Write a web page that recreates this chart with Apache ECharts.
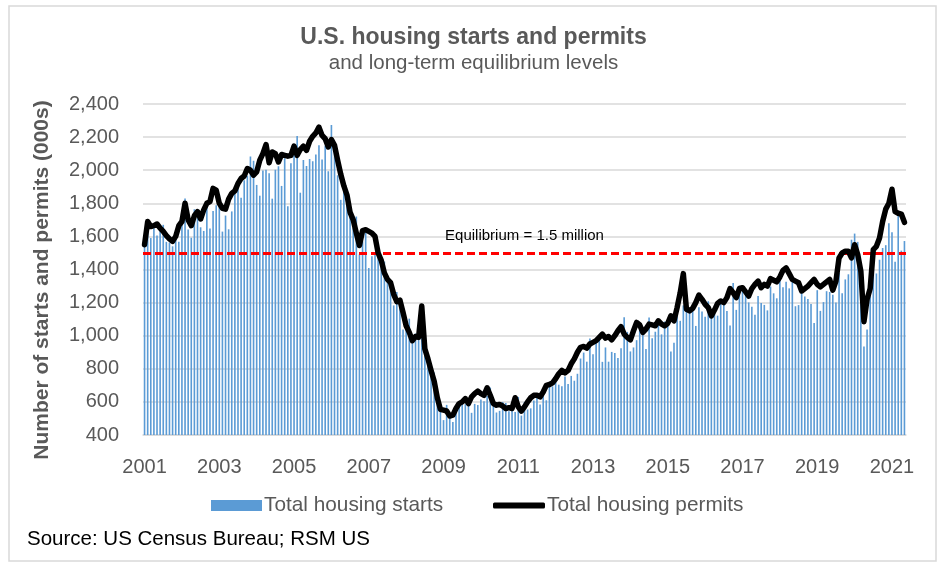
<!DOCTYPE html>
<html>
<head>
<meta charset="utf-8">
<script src="https://cdn.jsdelivr.net/npm/echarts@6/dist/echarts.min.js"></script>
<style>
html,body{margin:0;padding:0;background:#fff;}
#chart{width:947px;height:571px;}
</style>
</head>
<body>
<div id="chart"></div>
<script>
// Monthly categories, Jan 2001 .. May 2021
const firstYear = 2001, lastYear = 2021, lastMonth = 5;
const categories = [];
for (let y = firstYear; y <= lastYear; y++) {
  for (let m = 1; m <= 12; m++) {
    if (y === lastYear && m > lastMonth) break;
    categories.push(y + '-' + (m < 10 ? '0' + m : m));
  }
}
const tickYears = ['2001','2003','2005','2007','2009','2011','2013','2015','2017','2019','2021'];

// Total housing starts (000s, SAAR)
const housingStarts = [
  1600,1625,1590,1649,1605,1636,1670,1567,1562,1540,1602,1568, // 2001
  1698,1829,1642,1592,1764,1717,1655,1633,1804,1648,1753,1788, // 2002
  1853,1629,1726,1643,1751,1867,1897,1833,1939,1967,2083,2057, // 2003
  1911,1846,1998,2003,1981,1828,2002,2024,1905,2072,1782,2042, // 2004
  2144,2207,1864,2061,2025,2068,2054,2095,2151,2065,2147,1994, // 2005
  2273,2119,1969,1821,1942,1802,1737,1650,1720,1491,1570,1649, // 2006
  1409,1480,1495,1490,1415,1448,1354,1330,1183,1264,1197,1037, // 2007
  1084,1103,1005,1013, 973,1046, 923, 844, 820, 777, 652, 560, // 2008
   490, 582, 505, 478, 540, 585, 594, 586, 585, 534, 588, 581, // 2009
   614, 604, 636, 687, 583, 536, 546, 599, 594, 543, 545, 539, // 2010
   630, 517, 600, 554, 561, 608, 623, 585, 650, 610, 711, 694, // 2011
   723, 704, 695, 753, 708, 757, 728, 770, 862, 898, 843, 983, // 2012
   888, 962,1005, 842, 929, 843, 902, 896, 866, 924,1112,1023, // 2013
   905, 929, 973,1067,1006, 920,1110, 984,1024,1074,1008,1086, // 2014
  1093, 904, 957,1144,1090,1183,1167,1147,1190,1059,1172,1146, // 2015
  1114,1208,1113,1165,1121,1203,1218,1150,1062,1318,1156,1244, // 2016
  1300,1248,1201,1175,1127,1240,1198,1186,1153,1297,1256,1226, // 2017
  1344,1292,1326,1286,1348,1178,1185,1288,1237,1221,1192,1077, // 2018
  1275,1150,1203,1269,1264,1248,1200,1381,1257,1340,1371,1580, // 2019
  1617,1567,1269, 934,1038,1265,1487,1376,1459,1530,1547,1680, // 2020
  1625,1447,1725,1514,1572                                     // 2021
];

// Total housing permits (000s, SAAR)
const housingPermits = [
  1550,1690,1660,1665,1675,1650,1630,1605,1585,1570,1600,1665, // 2001
  1690,1800,1700,1665,1725,1750,1705,1760,1800,1810,1890,1880, // 2002
  1800,1770,1765,1825,1860,1875,1920,1950,1965,2010,2000,1970, // 2003
  1990,2060,2100,2155,2045,2110,2100,2050,2095,2090,2085,2090, // 2004
  2145,2090,2125,2145,2120,2175,2205,2225,2260,2210,2190,2140, // 2005
  2185,2150,2060,1975,1905,1850,1745,1700,1620,1545,1635,1640, // 2006
  1630,1620,1600,1500,1455,1380,1340,1320,1250,1205,1215,1140, // 2007
  1060,1020, 970, 995, 990,1180, 920, 860, 790, 725, 625, 555, // 2008
   550, 545, 515, 520, 560, 590, 600, 620, 590, 630, 650, 665, // 2009
   650, 640, 685, 640, 590, 580, 585, 575, 560, 565, 560, 625, // 2010
   570, 545, 570, 600, 625, 640, 640, 630, 660, 700, 705, 715, // 2011
   740, 770, 790, 775, 790, 830, 860, 900, 930, 935, 925, 950, // 2012
   960, 970, 990,1010, 985, 995, 975,1000,1030,1055,1010, 990, // 2013
   975,1030,1080,1065,1020,1040,1070,1065,1060,1090,1070,1060, // 2014
  1075,1120,1090,1170,1260,1375,1160,1150,1165,1200,1245,1220, // 2015
  1190,1170,1120,1155,1195,1210,1200,1230,1285,1260,1230,1285, // 2016
  1290,1265,1240,1285,1310,1330,1290,1310,1300,1345,1335,1325, // 2017
  1355,1395,1410,1375,1340,1330,1320,1270,1285,1300,1320,1340, // 2018
  1310,1295,1310,1325,1340,1275,1330,1470,1500,1510,1510,1470, // 2019
  1550,1490,1390,1085,1220,1285,1520,1540,1590,1690,1765,1800, // 2020
  1885,1750,1740,1735,1685                                     // 2021
];

const equilibriumLevel = 1500;
const yTicks = { min: 400, max: 2400, interval: 200 };

const gray = '#595959';
const font = '"Liberation Sans", Arial, sans-serif';

const chart = echarts.init(document.getElementById('chart'), null, { renderer: 'canvas' });
chart.setOption({
  animation: false,
  backgroundColor: '#ffffff',
  textStyle: { fontFamily: font },
  title: {
    text: 'U.S. housing starts and permits',
    subtext: 'and long-term equilibrium levels',
    left: 'center',
    top: 21,
    itemGap: 4,
    textStyle: { fontFamily: font, fontSize: 23, fontWeight: 'bold', color: gray },
    subtextStyle: { fontFamily: font, fontSize: 20.5, color: gray }
  },
  grid: { left: 143, right: 41, top: 104, bottom: 136, containLabel: false },
  legend: [
    {
      data: ['Total housing starts'],
      left: 211, top: 495, padding: 0,
      itemWidth: 51, itemHeight: 11,
      icon: 'rect',
      textStyle: { fontFamily: font, fontSize: 20.8, color: gray, padding: [0, 0, 0, -3] }
    },
    {
      data: ['Total housing permits'],
      left: 493, top: 495, padding: 0,
      itemWidth: 52, itemHeight: 6,
      icon: 'roundRect',
      textStyle: { fontFamily: font, fontSize: 20.8, color: gray, padding: [0, 0, 0, -3] }
    }
  ],
  xAxis: {
    type: 'category',
    data: categories,
    boundaryGap: true,
    axisTick: { show: false },
    axisLine: { show: true, lineStyle: { color: '#d9d9d9', width: 1.5 } },
    axisLabel: {
      interval: function (index, value) { return tickYears.indexOf(value.slice(0, 4)) >= 0 && value.slice(5) === '01'; },
      formatter: function (value) { return value.slice(0, 4); },
      fontFamily: font, fontSize: 20, color: gray, margin: 22
    },
    splitLine: { show: false }
  },
  yAxis: {
    type: 'value',
    min: yTicks.min, max: yTicks.max, interval: yTicks.interval,
    axisLine: { show: false },
    axisTick: { show: false },
    axisLabel: {
      fontFamily: font, fontSize: 20, color: gray, margin: 24,
      formatter: function (v) { return v.toLocaleString('en-US'); }
    },
    splitLine: { show: true, lineStyle: { color: '#d9d9d9', width: 1.5 } }
  },
  series: [
    {
      name: 'Total housing starts',
      type: 'bar',
      data: housingStarts,
      barWidth: '52%',
      itemStyle: { color: '#5b9bd5' },
      markLine: {
        silent: true,
        symbol: 'none',
        data: [{ yAxis: equilibriumLevel }],
        lineStyle: { color: '#ff0000', type: [8, 4], width: 3 },
        label: {
          show: true,
          position: 'insideMiddleTop',
          distance: 10,
          formatter: 'Equilibrium = 1.5 million',
          fontFamily: font, fontSize: 15, color: '#000000'
        }
      }
    },
    {
      name: 'Total housing permits',
      type: 'line',
      data: housingPermits,
      z: 5,
      symbol: 'none',
      smooth: false,
      itemStyle: { color: '#000000' },
      lineStyle: { color: '#000000', width: 5.5, cap: 'round', join: 'round' }
    }
  ],
  graphic: [
    {
      type: 'rect',
      shape: { x: 9, y: 6, width: 927, height: 555 },
      style: { fill: 'none', stroke: '#d9d9d9', lineWidth: 1.5 },
      silent: true
    },
    {
      type: 'text',
      x: 42, y: 280,
      rotation: Math.PI / 2,
      style: {
        text: 'Number of starts and permits (000s)',
        fontFamily: font, fontSize: 21, fontWeight: 'bold', fill: gray,
        textAlign: 'center', textVerticalAlign: 'middle'
      }
    },
    {
      type: 'text',
      left: 27, top: 529,
      style: { text: 'Source: US Census Bureau; RSM US', fontFamily: font, fontSize: 20.5, fill: '#000000' }
    }
  ]
});
</script>
</body>
</html>
